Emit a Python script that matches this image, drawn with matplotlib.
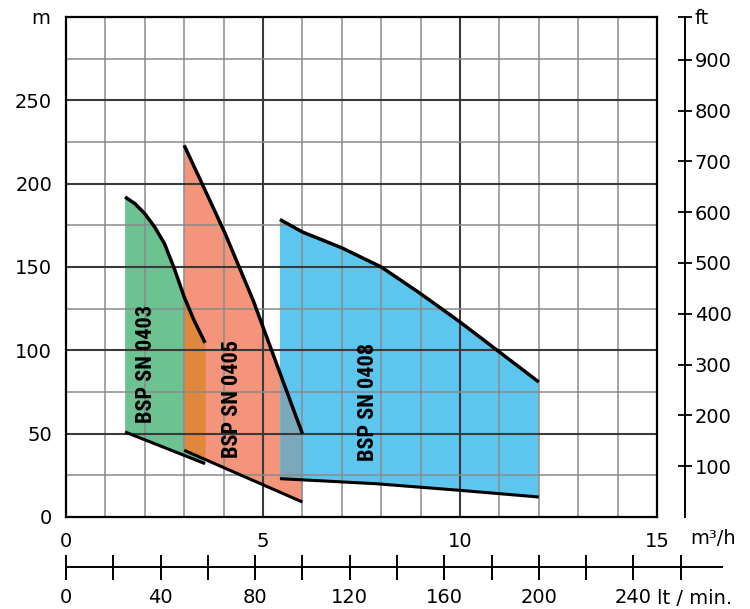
import numpy as np
import matplotlib
matplotlib.use("Agg")
import matplotlib.pyplot as plt
from matplotlib import font_manager

plt.rcParams["font.family"] = ["DejaVu Sans"]

# pump curves, flow in m3/h, head in m
q_0403 = [1.5, 1.75, 2.0, 2.25, 2.5, 2.75, 3.0, 3.25, 3.53]
h_0403 = [192, 188, 182, 174, 164, 149, 132, 118, 104.5]
q_0403_low = [1.5, 3.53]
h_0403_low = [51, 32]

q_0405 = [3.0, 3.65, 4.04, 4.75, 6.0]
h_0405 = [223, 190, 170, 130, 50]
q_0405_low = [3.0, 6.0]
h_0405_low = [40, 9]

q_0408 = [5.43, 6.0, 7.0, 8.0, 9.0, 10.0, 11.0, 12.0]
h_0408 = [178.5, 171, 161.5, 150, 134, 117, 99, 81]
q_0408_low = [5.43, 7.85, 10.0, 12.0]
h_0408_low = [23, 20, 16, 12]

names = ["BSP SN 0403", "BSP SN 0405", "BSP SN 0408"]
name_pos = [(2.03, 92), (4.21, 71), (7.66, 69)]

x_ticks = [0, 5, 10, 15]
y_ticks = [0, 50, 100, 150, 200, 250]
ft_ticks = [100, 200, 300, 400, 500, 600, 700, 800, 900]
lpm_ticks = list(range(0, 261, 20))
lpm_labels = [0, 40, 80, 120, 160, 200, 240]

GREEN = "#6cc291"
SALMON = "#f4947b"
ORANGE = "#e0873b"
BLUE = "#5cc6ee"
GREYBLUE = "#7ba8ba"

# a narrow bold face for the model names if one is installed
installed = {f.name for f in font_manager.fontManager.ttflist}
narrow = [f for f in ("Liberation Sans Narrow", "Roboto Condensed", "Open Sans Condensed",
                      "DejaVu Sans Condensed") if f in installed]
print(narrow)
if narrow:
    label_font, label_size = narrow[0], 16
else:
    label_font, label_size = "Liberation Sans", 14

W, H = 750, 609
fig = plt.figure(figsize=(W / 100, H / 100), dpi=100)
x0, x1, y0, y1 = 66, 657, 17, 517   # plot box in pixels
ax = fig.add_axes([x0 / W, (H - y1) / H, (x1 - x0) / W, (y1 - y0) / H])
ax.set_xlim(0, 15)
ax.set_ylim(0, 300)


def poly(ax, qu, hu, ql, hl, color):
    xs = list(qu) + list(ql)[::-1]
    ys = list(hu) + list(hl)[::-1]
    ax.fill(xs, ys, color=color, lw=0, zorder=1)


poly(ax, q_0403, h_0403, q_0403_low, h_0403_low, GREEN)
poly(ax, q_0405, h_0405, q_0405_low, h_0405_low, SALMON)
poly(ax, q_0408, h_0408, q_0408_low, h_0408_low, BLUE)


def overlap(ax, a, b, color):
    lo_q = max(a[0][0], b[0][0])
    hi_q = min(a[0][-1], b[0][-1])
    xx = np.linspace(lo_q, hi_q, 60)
    top = np.minimum(np.interp(xx, a[0], a[1]), np.interp(xx, b[0], b[1]))
    bot = np.maximum(np.interp(xx, a[2], a[3]), np.interp(xx, b[2], b[3]))
    ax.fill_between(xx, bot, top, where=top > bot, color=color, lw=0, zorder=1.5)


c3 = (q_0403, h_0403, q_0403_low, h_0403_low)
c5 = (q_0405, h_0405, q_0405_low, h_0405_low)
c8 = (q_0408, h_0408, q_0408_low, h_0408_low)
overlap(ax, c3, c5, ORANGE)
overlap(ax, c5, c8, GREYBLUE)

# grid, drawn over the fills like the printed sheet
for v in range(1, 15):
    major = v % 5 == 0
    ax.axvline(v, color="#3a3a3a" if major else "#8a8a8a", lw=1.5 if major else 1.1, zorder=2)
for v in range(25, 300, 25):
    major = v % 50 == 0
    ax.axhline(v, color="#3a3a3a" if major else "#8a8a8a", lw=1.5 if major else 1.1, zorder=2)

for c in (c3, c5, c8):
    ax.plot(c[0], c[1], color="black", lw=2.5, zorder=3, solid_capstyle="butt")
    ax.plot(c[2], c[3], color="black", lw=2.2, zorder=3, solid_capstyle="butt")

for name, (px, py) in zip(names, name_pos):
    ax.text(px, py, name, rotation=90, ha="center", va="center", fontsize=label_size,
            fontweight="bold", family=[label_font, "DejaVu Sans"], zorder=4)

for s in ax.spines.values():
    s.set_linewidth(1.6)
    s.set_color("black")
ax.set_xticks(x_ticks)
ax.set_yticks(y_ticks)
ax.tick_params(axis="both", length=0, labelsize=14)
ax.tick_params(axis="x", pad=11)
ax.tick_params(axis="y", pad=10)

fig.text(50 / W, 1 - 18 / H, "m", ha="right", va="center", fontsize=14)
fig.text(690 / W, 1 - 538 / H, "m³/h", ha="left", va="center", fontsize=14)

# feet axis on the right
ax2 = ax.twinx()
ax2.set_ylim(0, 300 / 0.3048)
for k in ("top", "left", "bottom"):
    ax2.spines[k].set_visible(False)
ax2.spines["right"].set_position(("outward", 28 * 0.72))
ax2.spines["right"].set_linewidth(1.4)
ax2.set_yticks(ft_ticks + [300 / 0.3048])
ax2.set_yticklabels([str(t) for t in ft_ticks] + ["ft"])
ax2.tick_params(axis="y", direction="inout", length=10, width=1.3, labelsize=14, pad=2)

# lt/min axis underneath
lpm_max = (722 - x0) / ((x1 - x0) / 15) * 1000 / 60
ax3 = fig.add_axes([x0 / W, (H - 567) / H, (722 - x0) / W, 0.0001])
ax3.set_xlim(0, lpm_max)
ax3.set_yticks([])
for k in ("top", "left", "right"):
    ax3.spines[k].set_visible(False)
ax3.spines["bottom"].set_linewidth(1.4)
ax3.patch.set_visible(False)
ax3.set_xticks(lpm_ticks)
ax3.set_xticklabels([str(t) if t in lpm_labels else "" for t in lpm_ticks])
ax3.tick_params(axis="x", direction="inout", length=18, width=1.4, labelsize=14, pad=6)
fig.text(657 / W, 1 - 598 / H, "lt / min.", ha="left", va="center", fontsize=14)

fig.savefig("out.png", dpi=100)
